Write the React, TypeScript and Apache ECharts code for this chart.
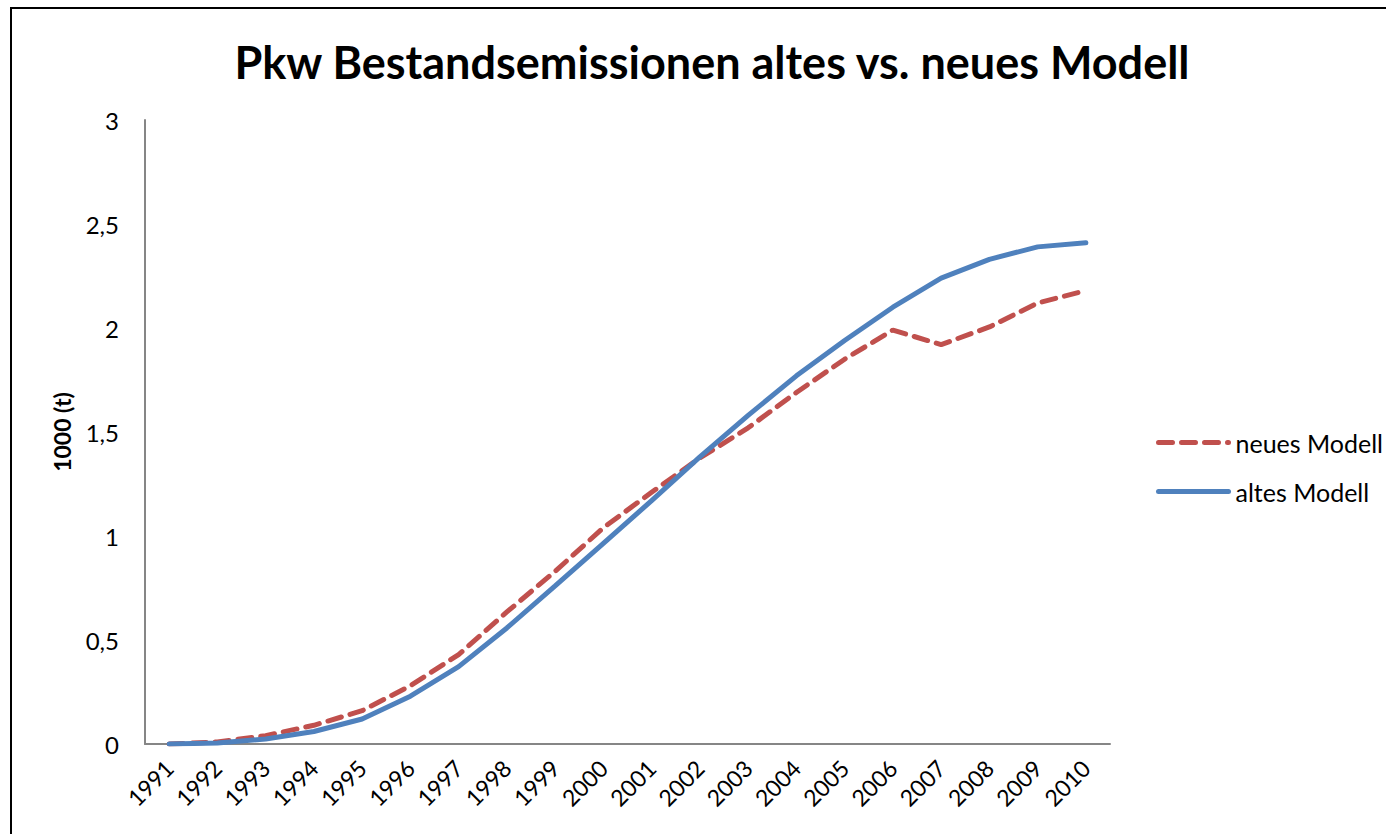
import React, { useEffect, useRef } from "react";
import * as echarts from "echarts";

const years = ["1991","1992","1993","1994","1995","1996","1997","1998","1999","2000","2001","2002","2003","2004","2005","2006","2007","2008","2009","2010"];
const neuesModell = [0, 0.01, 0.04, 0.09, 0.16, 0.28, 0.43, 0.635, 0.83, 1.04, 1.21, 1.375, 1.52, 1.69, 1.85, 1.99, 1.92, 2.005, 2.12, 2.18];
const altesModell = [0, 0.005, 0.024, 0.06, 0.12, 0.23, 0.372, 0.558, 0.76, 0.965, 1.17, 1.38, 1.58, 1.77, 1.94, 2.1, 2.24, 2.33, 2.39, 2.41];
const yTicks = [0, 0.5, 1, 1.5, 2, 2.5, 3];

const FONT = "Lato, 'Open Sans', sans-serif";

export default function App() {
  const ref = useRef<HTMLDivElement>(null);
  useEffect(() => {
    const chart = echarts.init(ref.current!, null, { renderer: "svg" });
    chart.setOption({
      animation: false,
      backgroundColor: "#ffffff",
      title: {
        text: "Pkw Bestandsemissionen altes vs. neues Modell",
        left: 707,
        textAlign: "center",
        top: 34,
        textStyle: { fontFamily: FONT, fontWeight: "bold", fontSize: 45, color: "#000" },
      },
      graphic: [
        {
          type: "rect",
          shape: { x: 11, y: 8, width: 1400, height: 900 },
          style: { fill: "none", stroke: "#000", lineWidth: 2 },
          silent: true,
        },
      ],
      legend: {
        orient: "vertical",
        left: 1151,
        top: 425,
        itemWidth: 70,
        itemHeight: 12,
        itemGap: 24,
        itemStyle: { opacity: 0 },
        lineStyle: { width: 5 },
        textStyle: { fontFamily: FONT, fontSize: 25, color: "#000", padding: [0, 0, 0, 2] },
        data: ["neues Modell", "altes Modell"],
      },
      grid: { left: 145, right: 276, top: 120, bottom: 90, containLabel: false },
      xAxis: {
        type: "category",
        data: years,
        boundaryGap: true,
        axisLine: { lineStyle: { color: "#868686", width: 2 } },
        axisTick: { show: false },
        axisLabel: {
          rotate: 45,
          margin: 20,
          fontFamily: FONT,
          fontSize: 23,
          color: "#000",
          interval: 0,
        },
      },
      yAxis: {
        type: "value",
        min: yTicks[0],
        max: yTicks[yTicks.length - 1],
        interval: 0.5,
        name: "1000 (t)",
        nameLocation: "middle",
        nameGap: 72,
        nameTextStyle: { fontFamily: FONT, fontWeight: "bold", fontSize: 23, color: "#000" },
        axisLine: { show: true, lineStyle: { color: "#868686", width: 2 } },
        axisTick: { show: false },
        splitLine: { show: false },
        axisLabel: {
          margin: 26,
          fontFamily: FONT,
          fontSize: 24,
          color: "#000",
          formatter: (v: number) => String(v).replace(".", ","),
        },
      },
      series: [
        {
          name: "neues Modell",
          type: "line",
          data: neuesModell,
          symbol: "none",
          lineStyle: { color: "#C0504D", width: 5, type: [14, 9], cap: "round" },
          itemStyle: { color: "#C0504D" },
          z: 2,
        },
        {
          name: "altes Modell",
          type: "line",
          data: altesModell,
          symbol: "none",
          lineStyle: { color: "#4F81BD", width: 5, cap: "round" },
          itemStyle: { color: "#4F81BD" },
          z: 3,
        },
      ],
    });
    return () => chart.dispose();
  }, []);
  return <div ref={ref} style={{ width: 1386, height: 834, position: "absolute", left: 0, top: 0 }} />;
}
